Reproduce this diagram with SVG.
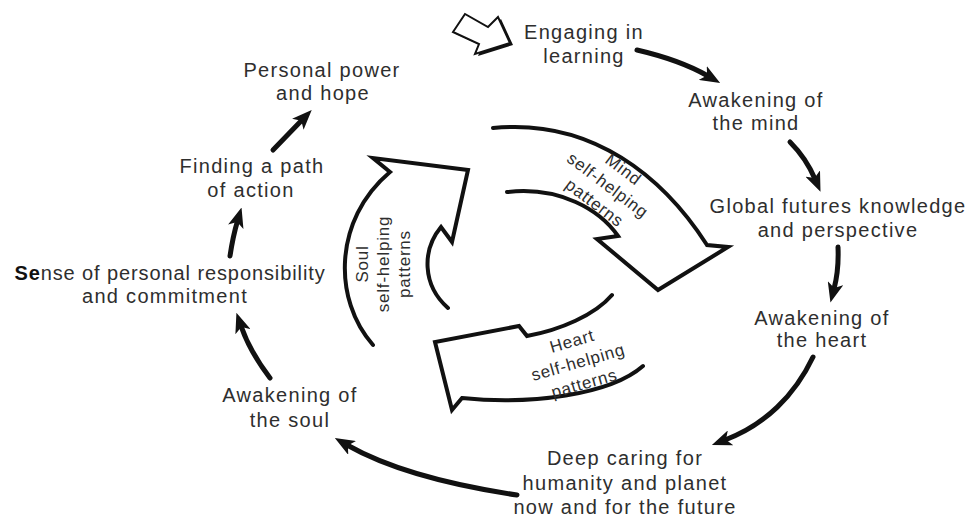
<svg xmlns="http://www.w3.org/2000/svg" width="968" height="520" viewBox="0 0 968 520">
  <defs>
    <style>
      .lbl { font-family: "Liberation Sans", Arial, Helvetica, sans-serif; font-size: 20px; letter-spacing: 1.3px; fill: #2e2e2e; text-anchor: middle; }
      .inner { font-size: 17px; letter-spacing: 0.8px; }
      .conn { fill: none; stroke: #111; stroke-width: 5; stroke-linecap: round; marker-end: url(#head); }
      .band { fill: none; stroke: #111; stroke-width: 4; stroke-linejoin: miter; stroke-linecap: round; }
    </style>
    <marker id="head" viewBox="0 0 20 16" refX="6" refY="8" markerWidth="20" markerHeight="16" orient="auto" markerUnits="userSpaceOnUse">
      <path d="M0,0 L20,8 L0,16 L5,8 z" fill="#111"/>
    </marker>
  </defs>

  <rect width="968" height="520" fill="#ffffff"/>

  <!-- entry arrow: hollow block arrow with drop shadow -->
  <g id="entry">
    <polygon points="453,32 465,14 488,27 498,17 510,43 475,54 479,44" transform="translate(3,2)" fill="#111"/>
    <polygon points="453,32 465,14 488,27 498,17 510,43 475,54 479,44" fill="#fff" stroke="#111" stroke-width="2" stroke-linejoin="miter"/>
  </g>

  <!-- outer cycle stages -->
  <g id="engaging">
    <text class="lbl" x="584" y="39">Engaging in</text>
    <text class="lbl" x="584" y="63">learning</text>
  </g>
  <g id="mind">
    <text class="lbl" x="756" y="107">Awakening of</text>
    <text class="lbl" x="756" y="130">the mind</text>
  </g>
  <g id="global">
    <text class="lbl" x="838" y="213">Global futures knowledge</text>
    <text class="lbl" x="838" y="237">and perspective</text>
  </g>
  <g id="heart">
    <text class="lbl" x="822" y="325">Awakening of</text>
    <text class="lbl" x="822" y="347">the heart</text>
  </g>
  <g id="caring">
    <text class="lbl" x="625" y="465">Deep caring for</text>
    <text class="lbl" x="625" y="490">humanity and planet</text>
    <text class="lbl" x="625" y="514">now and for the future</text>
  </g>
  <g id="soul">
    <text class="lbl" x="290" y="402">Awakening of</text>
    <text class="lbl" x="290" y="427">the soul</text>
  </g>
  <g id="responsibility">
    <text class="lbl" x="170" y="280" style="letter-spacing:0.9px"><tspan font-weight="bold" fill="#111">Se</tspan>nse of personal responsibility</text>
    <text class="lbl" x="165" y="303">and commitment</text>
  </g>
  <g id="path">
    <text class="lbl" x="252" y="173">Finding a path</text>
    <text class="lbl" x="251" y="197">of action</text>
  </g>
  <g id="power">
    <text class="lbl" x="322" y="77">Personal power</text>
    <text class="lbl" x="323" y="100">and hope</text>
  </g>

  <!-- connectors between stages -->
  <g id="connectors">
    <path class="conn" d="M637,50 Q680,60 708,76"/>
    <path class="conn" d="M790,142 Q806,158 815,179"/>
    <path class="conn" d="M838,247 Q839,270 834,289"/>
    <path class="conn" d="M813,357 C795,395 765,425 725,440"/>
    <path class="conn" d="M517,495 C470,488 400,475 347,445"/>
    <path class="conn" d="M270,378 Q250,352 241,326"/>
    <path class="conn" d="M230,256 Q233,236 237.5,221"/>
    <path class="conn" d="M273,150 L302,120"/>
  </g>

  <!-- inner self-helping cycle: three open curved block arrows -->
  <g id="mind-patterns">
    <path class="band" d="M493,128 C593,118 664,178 707,245 L728,247 L658,290 L597,239 L618,236 C600,210 560,186 507,192"/>
    <g transform="translate(608,185) rotate(37)">
      <text class="lbl inner" x="3" y="-16">Mind</text>
      <text class="lbl inner" x="0" y="6">self-helping</text>
      <text class="lbl inner" x="0" y="28">patterns</text>
    </g>
  </g>
  <g id="heart-patterns">
    <path class="band" d="M643,366 C610,395 530,405 462,398 L452,410 L435,342 L519,326 L527,336 C560,330 595,315 612,295"/>
    <g transform="translate(578,362) rotate(-16)">
      <text class="lbl inner" x="0" y="-16">Heart</text>
      <text class="lbl inner" x="0" y="6">self-helping</text>
      <text class="lbl inner" x="0" y="28">patterns</text>
    </g>
  </g>
  <g id="soul-patterns">
    <path class="band" d="M373,345 C333,300 333,220 390,172 L373,158 L468,170 L452,242 L441,227 C422,250 422,285 448,308"/>
    <g transform="translate(383,264) rotate(-90)">
      <text class="lbl inner" x="0" y="-15">Soul</text>
      <text class="lbl inner" x="0" y="6">self-helping</text>
      <text class="lbl inner" x="0" y="27">patterns</text>
    </g>
  </g>
</svg>
